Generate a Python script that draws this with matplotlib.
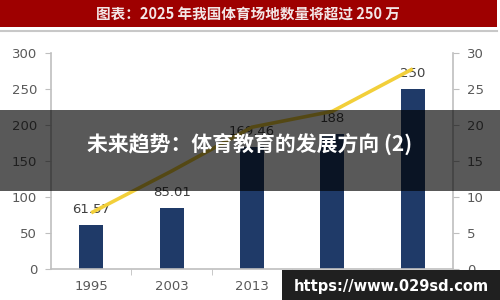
import matplotlib
matplotlib.use("Agg")
import matplotlib.pyplot as plt
from matplotlib.patches import Rectangle
from matplotlib.lines import Line2D

years = ["1995", "2003", "2013", "2017", "2025"]
venues = [61.57, 85.01, 169.46, 188, 250]
venue_labels = ["61.57", "85.01", "169.46", "188", "250"]
line_vals = [7.8, 13.6, 19.7, 21.9, 27.8]
left_ticks = [0, 50, 100, 150, 200, 250, 300]
right_ticks = [0, 5, 10, 15, 20, 25, 30]

title_text = "图表：2025 年我国体育场地数量将超过 250 万"
overlay_text = "未来趋势：体育教育的发展方向 (2)"
watermark_text = "https://www.029sd.com"

plt.rcParams['font.family'] = ['Noto Sans CJK SC', 'DejaVu Sans']

fig = plt.figure(figsize=(5, 3), dpi=100)
fig.patch.set_facecolor("white")

W, H = 500, 300
def fx(px): return px / W
def fy(py): return 1 - py / H

ax = fig.add_axes([fx(51), fy(269), fx(453) - fx(51), fy(53) - fy(269)])
x = list(range(len(years)))
ax.bar(x, venues, width=0.3, color="#1f3a68", zorder=2)
ax.set_xlim(-0.5, len(years) - 0.5)
ax.set_ylim(0, 300)
ax.set_yticks(left_ticks)
ax.set_xticks(x)
ax.set_xticklabels(years)
ax.set_xticks([i + 0.5 for i in range(len(years) - 1)], minor=True)
ax.tick_params(axis="x", which="major", length=0, pad=8, labelsize=9.5, labelcolor="#595959")
ax.tick_params(axis="x", which="minor", length=4, color="#bfbfbf", direction="out")
ax.tick_params(axis="y", length=4, color="#bfbfbf", labelsize=9.5, labelcolor="#595959", pad=6)
for s in ["top", "right"]:
    ax.spines[s].set_visible(False)
for s in ["left", "bottom"]:
    ax.spines[s].set_color("#bfbfbf")
    ax.spines[s].set_linewidth(1.2)

for xi, v, lab in zip(x, venues, venue_labels):
    ax.annotate(lab, (xi, v), xytext=(0, 11), textcoords="offset points",
                ha="center", va="center", fontsize=9.5, color="#404040",
                family="DejaVu Sans", zorder=4)

ax2 = ax.twinx()
ax2.plot(x, line_vals, color="#f2cf3a", lw=2.6, zorder=3, solid_capstyle="butt")
ax2.set_ylim(0, 30)
ax2.set_yticks(right_ticks)
ax2.tick_params(axis="y", length=4, color="#bfbfbf", labelsize=9.5, labelcolor="#595959", pad=6)
for s in ["top", "left", "bottom"]:
    ax2.spines[s].set_visible(False)
ax2.spines["right"].set_color("#bfbfbf")
ax2.spines["right"].set_linewidth(1.2)
for a in (ax, ax2):
    for t in a.get_yticklabels() + a.get_xticklabels():
        t.set_family("DejaVu Sans")

# title banner
fig.patches.append(Rectangle((0, fy(27)), fx(497), fy(0) - fy(27), transform=fig.transFigure,
                             facecolor="#9e0000", edgecolor="none", zorder=5))
fig.lines.append(Line2D([0, fx(497)], [fy(31), fy(31)], transform=fig.transFigure,
                        color="#c8c8c8", lw=1.5, zorder=5))
fig.text(fx(248), fy(14), title_text, ha="center", va="center", color="#f3e6e6",
         fontsize=10.5, fontweight="bold", zorder=6)

# overlay band
fig.patches.append(Rectangle((0, fy(191)), 1, fy(110) - fy(191), transform=fig.transFigure,
                             facecolor="black", alpha=0.65, edgecolor="none", zorder=10))
fig.text(fx(250), fy(144), overlay_text, ha="center", va="center", color="white",
         fontsize=15, fontweight="bold", zorder=11)

# watermark
fig.patches.append(Rectangle((fx(282), 0), 1 - fx(282), fy(270), transform=fig.transFigure,
                             facecolor="#202020", edgecolor="none", zorder=12))
fig.text(fx(391), fy(286), watermark_text, ha="center", va="center", color="white",
         fontsize=10.5, fontweight="bold", family="DejaVu Sans", zorder=13)

fig.savefig("out.png", dpi=100)
